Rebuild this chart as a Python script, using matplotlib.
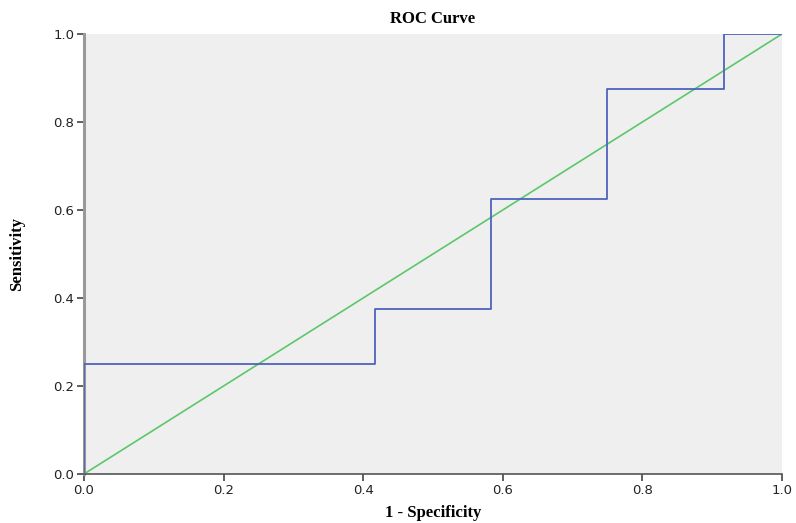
import matplotlib
matplotlib.use("Agg")
import matplotlib.pyplot as plt

# ROC curve coordinates (1 - specificity, sensitivity)
fpr = [0.0, 0.0, 0.4167, 0.4167, 0.5833, 0.5833, 0.75, 0.75, 0.9167, 0.9167, 1.0]
tpr = [0.0, 0.25, 0.25, 0.375, 0.375, 0.625, 0.625, 0.875, 0.875, 1.0, 1.0]
ref_line = [0.0, 1.0]
ticks = [0.0, 0.2, 0.4, 0.6, 0.8, 1.0]
tick_labels = ["0.0", "0.2", "0.4", "0.6", "0.8", "1.0"]

fig = plt.figure(figsize=(7.96, 5.23), dpi=100)
ax = fig.add_axes([0.1055, 0.0937, 0.8769, 0.8413])
ax.set_facecolor("#efefef")

ax.plot(ref_line, ref_line, color="#5cc76a", lw=1.2, zorder=2)
ax.plot(fpr, tpr, color="#4f63bd", lw=1.3, zorder=3)

ax.set_xlim(0, 1)
ax.set_ylim(0, 1)
ax.set_xticks(ticks)
ax.set_xticklabels(tick_labels)
ax.set_yticks(ticks)
ax.set_yticklabels(tick_labels)
ax.tick_params(direction="out", length=5, width=1.2, color="#444444",
               labelsize=9.5, labelcolor="#222222", pad=2)

for side in ("top", "right"):
    ax.spines[side].set_visible(False)
ax.spines["left"].set_color("#999999")
ax.spines["left"].set_linewidth(2.2)
ax.spines["bottom"].set_color("#555555")
ax.spines["bottom"].set_linewidth(1.2)

serif = ["Liberation Serif", "DejaVu Serif"]
ax.set_title("ROC Curve", family=serif, fontweight="bold", fontsize=12, pad=8)
ax.set_xlabel("1 - Specificity", family=serif, fontweight="bold", fontsize=12, labelpad=6)
ax.set_ylabel("Sensitivity", family=serif, fontweight="bold", fontsize=12, labelpad=20)

fig.savefig("out.png", dpi=100)
